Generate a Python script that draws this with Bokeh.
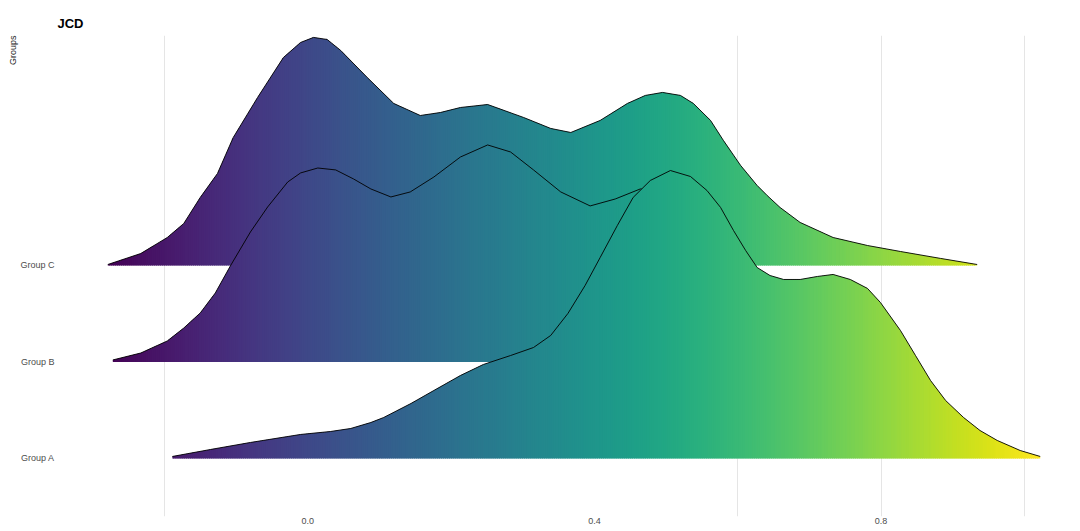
import math
from bokeh.plotting import figure
from bokeh.models import FixedTicker, Title, ColumnDataSource
from bokeh.palettes import Viridis256
from bokeh.embed import file_html
from bokeh.resources import INLINE

# ---- data (x value, ridge height in group units) ----
groups = ["Group A", "Group B", "Group C"]
group_pos = [1, 2, 3]

c_x = [-0.279, -0.233, -0.196, -0.173, -0.150, -0.126, -0.104, -0.070, -0.034, -0.010,
       0.008, 0.027, 0.046, 0.083, 0.120, 0.157, 0.185, 0.213, 0.251, 0.301,
       0.339, 0.367, 0.408, 0.446, 0.471, 0.495, 0.520, 0.538, 0.562, 0.580,
       0.604, 0.627, 0.641, 0.659, 0.687, 0.733, 0.781, 0.827, 0.883, 0.934]
c_h = [0.010, 0.124, 0.290, 0.435, 0.705, 0.953, 1.326, 1.741, 2.155, 2.311,
       2.363, 2.342, 2.228, 1.948, 1.679, 1.554, 1.585, 1.637, 1.668, 1.534,
       1.420, 1.378, 1.503, 1.679, 1.762, 1.793, 1.762, 1.679, 1.503, 1.295,
       1.036, 0.829, 0.725, 0.601, 0.446, 0.290, 0.207, 0.145, 0.073, 0.010]

b_x = [-0.272, -0.233, -0.196, -0.173, -0.150, -0.129, -0.108, -0.080, -0.056, -0.028,
       -0.010, 0.014, 0.039, 0.064, 0.088, 0.116, 0.143, 0.176, 0.213, 0.251,
       0.283, 0.315, 0.353, 0.394, 0.429, 0.464, 0.499, 0.548, 0.590, 0.632,
       0.688, 0.743, 0.799]
b_h = [0.021, 0.093, 0.218, 0.352, 0.508, 0.715, 0.995, 1.347, 1.606, 1.865,
       1.959, 2.010, 1.990, 1.896, 1.793, 1.710, 1.762, 1.917, 2.124, 2.249,
       2.176, 1.990, 1.762, 1.617, 1.689, 1.793, 1.762, 1.492, 1.036, 0.622,
       0.249, 0.073, 0.010]

a_x = [-0.189, -0.136, -0.080, -0.010, 0.032, 0.060, 0.088, 0.106, 0.144, 0.176,
       0.213, 0.245, 0.283, 0.315, 0.339, 0.363, 0.387, 0.408, 0.432, 0.454,
       0.478, 0.506, 0.534, 0.557, 0.576, 0.594, 0.611, 0.627, 0.645, 0.664,
       0.687, 0.711, 0.733, 0.757, 0.781, 0.799, 0.827, 0.848, 0.869, 0.890,
       0.915, 0.938, 0.962, 0.994, 1.022]
a_h = [0.021, 0.093, 0.166, 0.249, 0.280, 0.311, 0.373, 0.425, 0.570, 0.705,
       0.860, 0.974, 1.067, 1.150, 1.275, 1.503, 1.793, 2.083, 2.415, 2.705,
       2.881, 2.984, 2.922, 2.777, 2.601, 2.363, 2.155, 1.979, 1.896, 1.855,
       1.855, 1.886, 1.907, 1.855, 1.762, 1.617, 1.326, 1.067, 0.808, 0.601,
       0.425, 0.290, 0.187, 0.083, 0.021]

x_ticks = [0.0, 0.4, 0.8]
x_tick_labels = ["0.0", "0.4", "0.8"]
grid_lines = [-0.2, 0.6, 0.8, 1.0]

FONT = "Liberation Sans"

p = figure(width=1080, height=531, output_backend="svg", toolbar_location=None,
           x_range=(-0.345, 1.0754), y_range=(0.399, 5.383),
           min_border_left=60, min_border_right=2, min_border_top=35, min_border_bottom=15)
p.outline_line_color = None
p.background_fill_color = "white"

p.title.text = "JCD"
p.title.text_font = FONT
p.title.text_font_size = "13px"
p.title.text_font_style = "bold"
p.title.text_color = "#000000"
p.title.align = "left"
p.title.offset = -3
p.title.standoff = 10

p.add_layout(Title(text="Groups", align="right", text_font=FONT, text_font_size="9px",
                   text_font_style="normal", text_color="#222222", standoff=0), "left")

# axes
p.xaxis.ticker = FixedTicker(ticks=x_ticks)
p.xaxis.major_label_overrides = {t: l for t, l in zip(x_ticks, x_tick_labels)}
p.yaxis.ticker = FixedTicker(ticks=group_pos)
p.yaxis.major_label_overrides = {g: n for g, n in zip(group_pos, groups)}
for ax in (p.xaxis, p.yaxis):
    ax.axis_line_color = None
    ax.major_tick_line_color = None
    ax.minor_tick_line_color = None
    ax.major_tick_out = 0
    ax.major_tick_in = 0
    ax.major_label_text_font = FONT
    ax.major_label_text_color = "#4d4d4d"
p.xaxis.major_label_text_font_size = "9px"
p.xaxis.major_label_standoff = 1
p.yaxis.major_label_text_font_size = "9px"
p.yaxis.major_label_standoff = 6

p.xgrid.ticker = FixedTicker(ticks=grid_lines)
p.xgrid.grid_line_color = "#e5e5e5"
p.xgrid.grid_line_width = 1
p.ygrid.grid_line_color = None

all_x = a_x + b_x + c_x
xmin, xmax = min(all_x), max(all_x)


def color_for(x):
    t = (x - xmin) / (xmax - xmin)
    i = max(0, min(255, int(round(t * 255))))
    return Viridis256[i]


def ridge(xs, hs, base):
    step = 0.003
    pxs, pys, cols = [], [], []
    for i in range(len(xs) - 1):
        x0, x1 = xs[i], xs[i + 1]
        h0, h1 = hs[i], hs[i + 1]
        slope = (h1 - h0) / (x1 - x0)
        n = max(1, int(math.ceil((x1 - x0) / step)))
        w = (x1 - x0) / n
        for k in range(n):
            xa = x0 + w * k
            xb = x0 + w * (k + 1)
            xa_ext = xa - (0.6 * w if (i > 0 or k > 0) else 0.0)
            ha = h0 + slope * (xa_ext - x0)
            hb = h0 + slope * (xb - x0)
            pxs.append([xa_ext, xb, xb, xa_ext])
            pys.append([base, base, base + hb, base + ha])
            cols.append(color_for((xa + xb) / 2))
    src = ColumnDataSource(dict(xs=pxs, ys=pys, c=cols))
    p.patches("xs", "ys", source=src, fill_color="c", line_color=None)
    p.line(xs, [base + h for h in hs], line_color="black", line_width=0.9)


ridge(c_x, c_h, 3)
ridge(b_x, b_h, 2)
ridge(a_x, a_h, 1)

open("out.html", "w").write(file_html(p, INLINE))
